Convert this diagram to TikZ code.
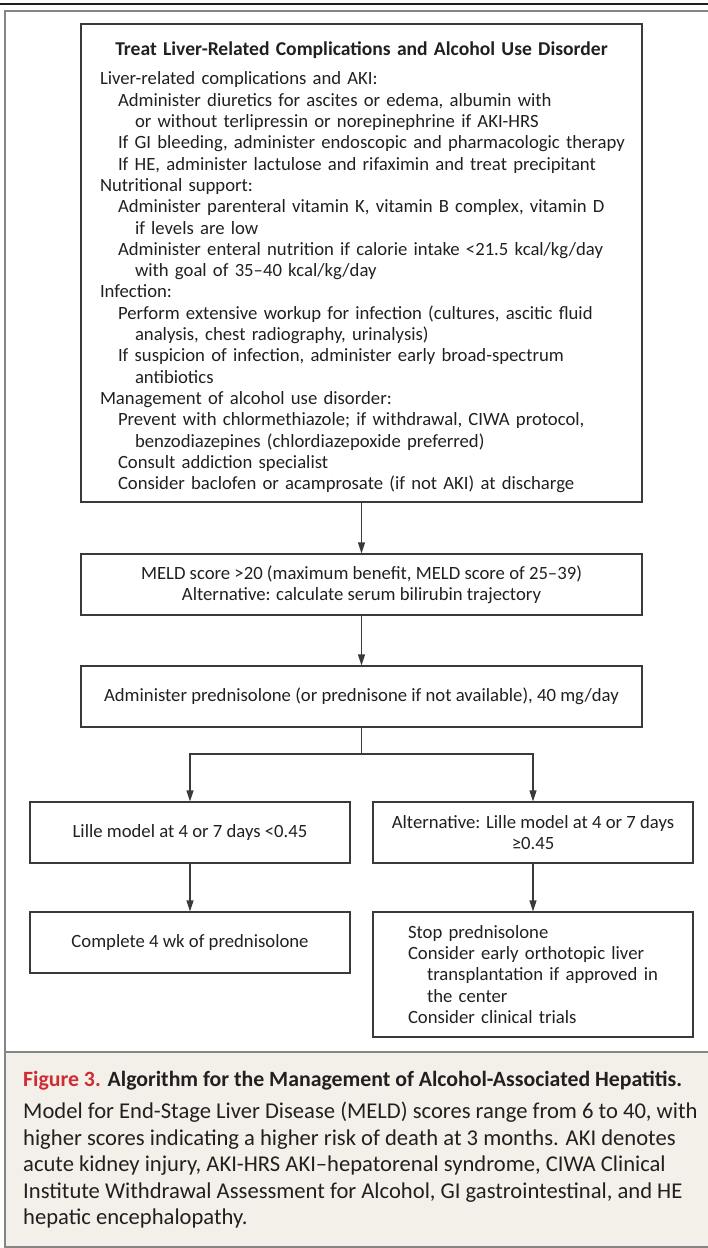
\documentclass[tikz,border=0pt]{standalone}
\usepackage{fontspec}
\setmainfont{Carlito}
\usetikzlibrary{arrows.meta}
\definecolor{ink}{HTML}{231F20}
\definecolor{boxline}{HTML}{3A3A3A}
\definecolor{framegray}{HTML}{858585}
\definecolor{capbg}{HTML}{F3F0EA}
\definecolor{figred}{HTML}{D12B34}
\newcommand{\flowfont}{\fontsize{18.7}{21.3}\selectfont}
\newcommand{\flowtitlefont}{\fontsize{19.6}{21.3}\selectfont\bfseries}
\newcommand{\capfont}{\fontsize{22.6}{26.5}\selectfont}
\newcommand{\captitlefont}{\fontsize{21.8}{26.5}\selectfont\bfseries}
\tikzset{
	box/.style 2 args={draw=boxline,line width=1.2pt,minimum width=#1,minimum height=#2,inner sep=0pt,align=center,text=ink,font=\flowfont},
	arr/.style={draw=boxline,line width=1.2pt,-{Triangle[length=11pt,width=7pt]}},
	frameline/.style={draw=framegray,line width=1.6pt}
}

\begin{document}
\begin{tikzpicture}[x=1pt,y=-1pt]
	\useasboundingbox (0,0) rectangle (708,1248);
	% frame and caption panel
	\fill [capbg] (5,1052) rectangle (708,1247);
	\draw [ink,line width=2pt] (0,4) -- (708,4);
	\draw [frameline] (708,11) -- (5,11) -- (5,1247) -- (708,1247);
	\draw [frameline] (5,1052) -- (708,1052);

	\node [box={561pt}{478pt},text width=561pt,align=left] (treat) at (361.5,263) {%
		{\centering\flowtitlefont Treat Liver-Related Complications and Alcohol Use Disorder\par}
		\vspace{7.7pt}
		\leftskip=19pt
		Liver-related complications and AKI:\\
		\hspace*{18pt}Administer diuretics for ascites or edema, albumin with\\
		\hspace*{35pt}or without terlipressin or norepinephrine if AKI-HRS\\
		\hspace*{18pt}If GI bleeding, administer endoscopic and pharmacologic therapy\\
		\hspace*{18pt}If HE, administer lactulose and rifaximin and treat precipitant\\
		Nutritional support:\\
		\hspace*{18pt}Administer parenteral vitamin K, vitamin B complex, vitamin D\\
		\hspace*{35pt}if levels are low\\
		\hspace*{18pt}Administer enteral nutrition if calorie intake <21.5 kcal/kg/day\\
		\hspace*{35pt}with goal of 35--40 kcal/kg/day\\
		Infection:\\
		\hspace*{18pt}Perform extensive workup for infection (cultures, ascitic fluid\\
		\hspace*{35pt}analysis, chest radiography, urinalysis)\\
		\hspace*{18pt}If suspicion of infection, administer early broad-spectrum\\
		\hspace*{35pt}antibiotics\\
		Management of alcohol use disorder:\\
		\hspace*{18pt}Prevent with chlormethiazole; if withdrawal, CIWA protocol,\\
		\hspace*{35pt}benzodiazepines (chlordiazepoxide preferred)\\
		\hspace*{18pt}Consult addiction specialist\\
		\hspace*{18pt}Consider baclofen or acamprosate (if not AKI) at discharge\par
		\vspace{-9pt}};
	\node [box={561pt}{61pt}] (meld) at (361.5,584.5) {MELD score >20 (maximum benefit, MELD score of 25--39)\\Alternative: calculate serum bilirubin trajectory};
	\node [box={561pt}{61pt}] (pred) at (361.5,696.5) {Administer prednisolone (or prednisone if not available), 40 mg/day};
	\node [box={320pt}{61pt}] (lille) at (190,832.5) {Lille model at 4 or 7 days <0.45};
	\node [box={320pt}{61pt}] (lillealt) at (533,832.5) {Alternative: Lille model at 4 or 7 days\\≥0.45};
	\node [box={320pt}{61pt}] (complete) at (190,942.5) {Complete 4 wk of prednisolone};
	\node [box={320pt}{125pt},text width=320pt,align=left] (stop) at (533,974.5) {%
		\leftskip=35pt
		Stop prednisolone\\
		Consider early orthotopic liver\\
		\hspace*{19pt}transplantation if approved in\\
		\hspace*{19pt}the center\\
		Consider clinical trials\par};
	\coordinate (split) at (361.5,754);

	\draw [arr] (treat) -- (meld);
	\draw [arr] (meld) -- (pred);
	\draw [arr] (pred) -- (split) -| (lille);
	\draw [arr] (split) -| (lillealt);
	\draw [arr] (lille) -- (complete);
	\draw [arr] (lillealt) -- (stop);

	\node [anchor=north west,inner sep=0pt,align=left,text=ink,font=\capfont] (caption) at (23,1071) {%
		{\captitlefont\color{figred}Figure 3.} {\captitlefont Algorithm for the Management of Alcohol-Associated Hepatitis.}\\[5.5pt]
		Model for End-Stage Liver Disease (MELD) scores range from 6 to 40, with\\
		higher scores indicating a higher risk of death at 3 months. AKI denotes\\
		acute kidney injury, AKI-HRS AKI--hepatorenal syndrome, CIWA Clinical\\
		Institute Withdrawal Assessment for Alcohol, GI gastrointestinal, and HE\\
		hepatic encephalopathy.};
\end{tikzpicture}
\end{document}
